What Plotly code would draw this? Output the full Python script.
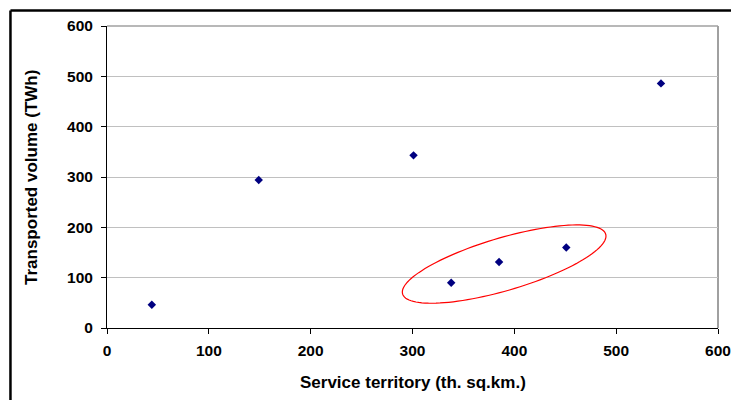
import numpy as np
import plotly.graph_objects as go

# Service territory (th. sq.km.) vs transported volume (TWh)
territory = [44, 149, 301, 338, 385, 451, 544]
volume = [46, 294, 343, 90, 131, 160, 486]

x_ticks = [0, 100, 200, 300, 400, 500, 600]
y_ticks = [0, 100, 200, 300, 400, 500, 600]

x_title = "Service territory (th. sq.km.)"
y_title = "Transported volume (TWh)"

# Highlight ellipse around the three mid-sized companies (data units)
ell_center = (390, 127)
ell_l11, ell_l21, ell_l22 = 100.0, 55.6, 54.4

t = np.linspace(0, 2 * np.pi, 121)
ex = ell_center[0] + ell_l11 * np.cos(t)
ey = ell_center[1] + ell_l21 * np.cos(t) + ell_l22 * np.sin(t)
ell_path = "M " + " L ".join(f"{a:.2f},{b:.2f}" for a, b in zip(ex, ey)) + " Z"

fig = go.Figure()
fig.add_trace(go.Scatter(
    x=territory, y=volume, mode="markers",
    marker=dict(symbol="diamond", size=6.5, color="#000080"),
    hoverinfo="x+y", showlegend=False,
))

font_family = "Liberation Sans, Arial, sans-serif"
tick_font = dict(family=font_family, size=15.5, color="black", weight="bold")
title_font = dict(family=font_family, size=17, color="black", weight="bold")

fig.update_layout(
    width=731, height=400,
    margin=dict(l=107, r=13, t=26, b=72),
    paper_bgcolor="white", plot_bgcolor="white",
    font=dict(family=font_family, size=16, color="black"),
    xaxis=dict(
        range=[0, 600], tickvals=x_ticks, ticktext=[str(v) for v in x_ticks],
        automargin=False,
        showgrid=False, zeroline=False,
        showline=True, linecolor="black", linewidth=1,
        ticks="outside", ticklen=5, tickcolor="black",
        ticklabelstandoff=3, tickfont=tick_font,
    ),
    yaxis=dict(
        range=[0, 600], tickvals=y_ticks, ticktext=[str(v) for v in y_ticks],
        automargin=False,
        showgrid=True, gridcolor="#c0c0c0", gridwidth=1, zeroline=False,
        showline=True, linecolor="black", linewidth=1,
        ticks="outside", ticklen=5, tickcolor="black",
        ticklabelstandoff=5, tickfont=tick_font,
    ),
    annotations=[
        dict(text=x_title, xref="paper", yref="paper", x=0.5, y=-0.182,
             xanchor="center", yanchor="middle", showarrow=False, font=title_font),
        dict(text=y_title, xref="paper", yref="paper", x=-0.1244, y=0.5,
             xanchor="center", yanchor="middle", textangle=-90,
             showarrow=False, font=title_font),
    ],
    shapes=[
        # grey frame on top and right of plot area
        dict(type="line", xref="paper", yref="paper", x0=0, x1=1, y0=1, y1=1,
             line=dict(color="#a0a0a0", width=1.5), layer="below"),
        dict(type="line", xref="paper", yref="paper", x0=1, x1=1, y0=0, y1=1,
             line=dict(color="#a0a0a0", width=2), layer="below"),
        # outer black frame (top and left)
        dict(type="line", xref="paper", yref="paper", x0=-0.158, x1=1.03,
             y0=1.0513, y1=1.0513, line=dict(color="black", width=2.5)),
        dict(type="line", xref="paper", yref="paper", x0=-0.158, x1=-0.158,
             y0=-0.3, y1=1.0513, line=dict(color="black", width=2.5)),
        # highlight ellipse
        dict(type="path", xref="x", yref="y", path=ell_path,
             line=dict(color="#ff0000", width=1.2)),
    ],
)

fig.write_html("out.html")
